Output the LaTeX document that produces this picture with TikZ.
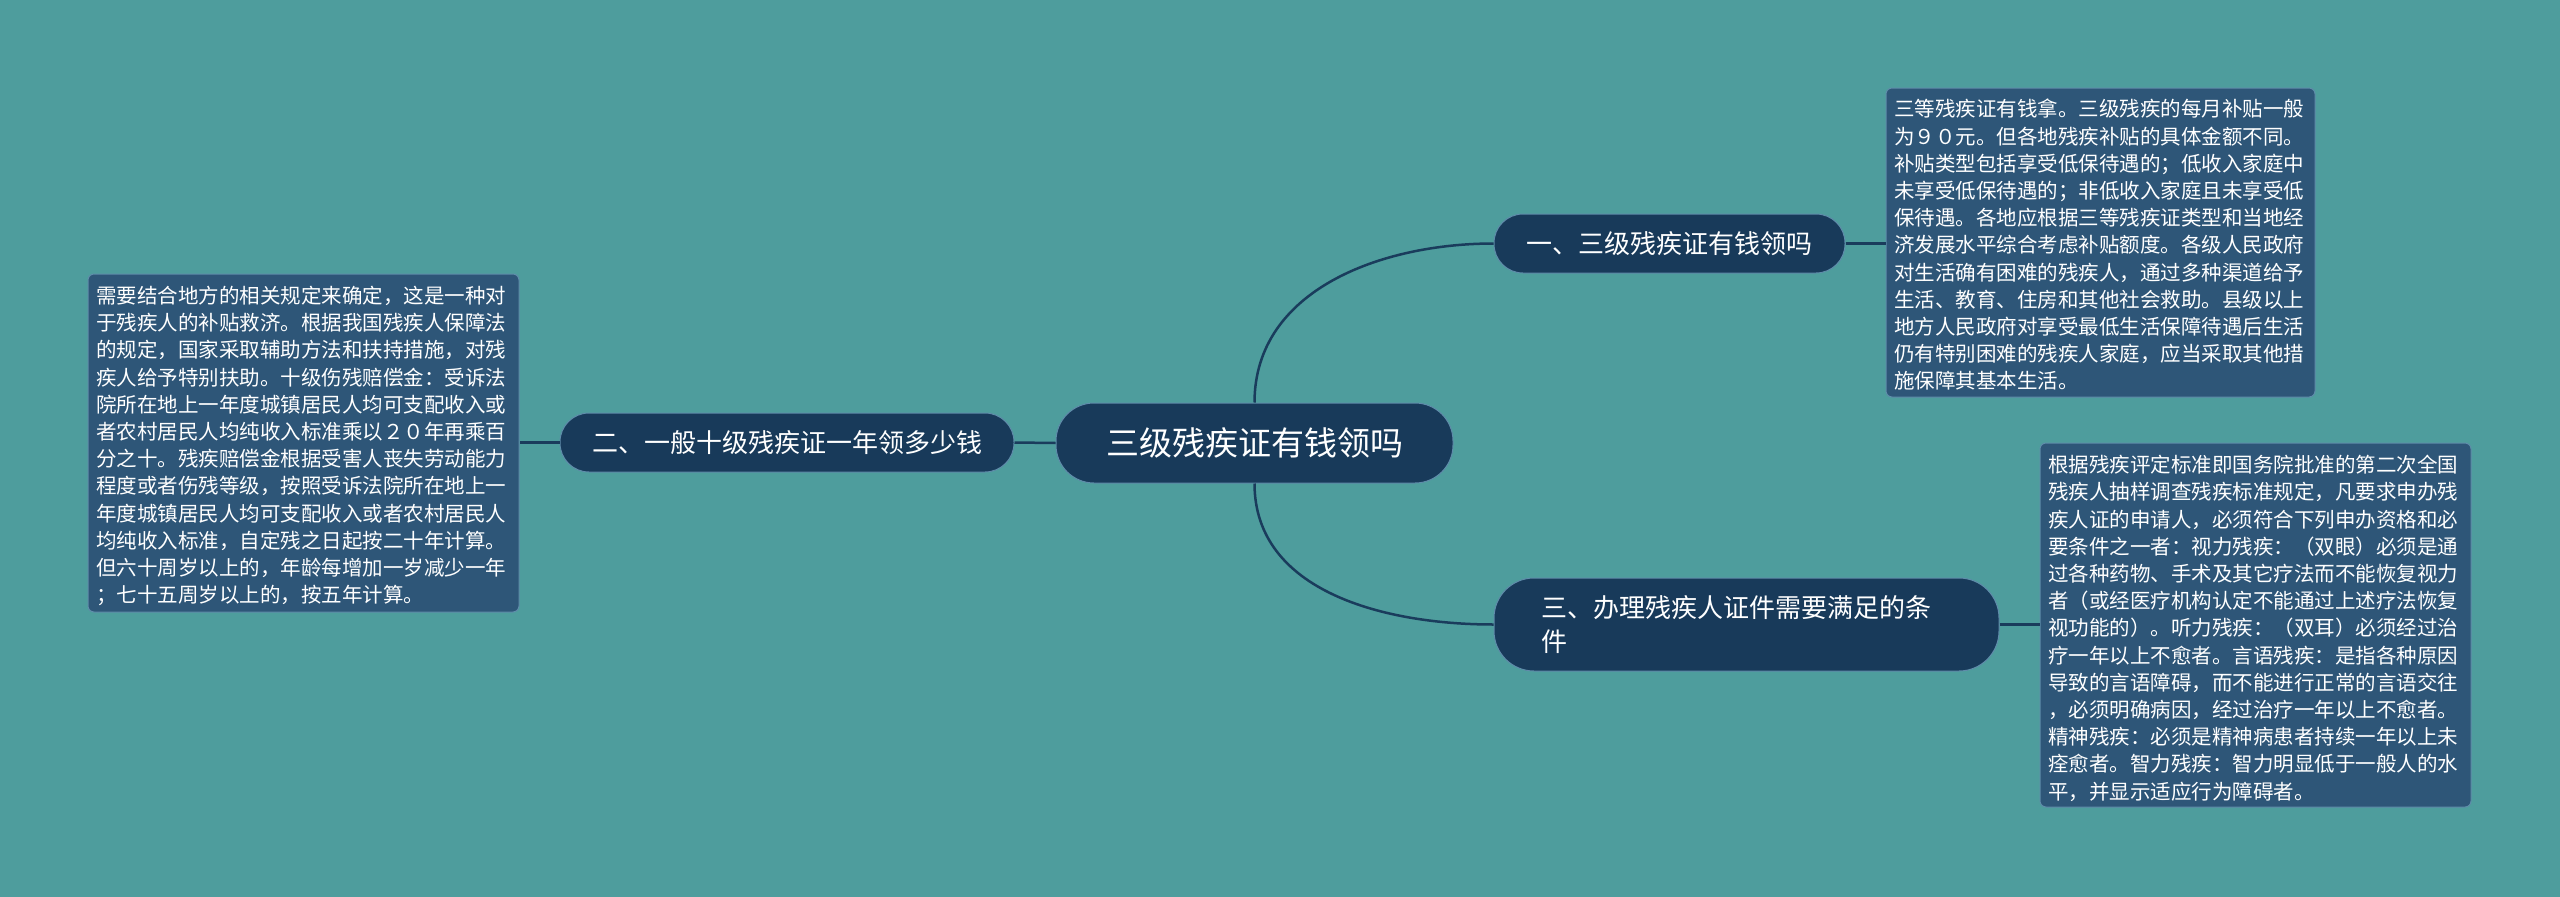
\documentclass[tikz,border=0pt]{standalone}
\usepackage{fontspec}
\setmainfont{Noto Sans CJK SC}
\definecolor{bg}{RGB}{78,157,157}
\definecolor{boxc}{RGB}{46,86,120}
\definecolor{boxb}{RGB}{95,140,170}
\definecolor{mainc}{RGB}{24,58,90}
\definecolor{linec}{RGB}{26,60,92}
\tikzset{
  branch/.style={draw=boxb,line width=1pt,fill=mainc,rounded corners=29pt,text=white,font=\fontsize{26pt}{32pt}\selectfont,inner sep=0pt},
  leafbox/.style={draw=boxb,line width=1pt,fill=boxc,rounded corners=6pt,inner sep=0pt},
  leaftext/.style={anchor=north west,text=white,align=left,font=\fontsize{20.5pt}{27.2pt}\selectfont,inner sep=0pt},
  conn/.style={draw=linec,line width=2.5pt}
}
\begin{document}
\begin{tikzpicture}[x=1pt,y=-1pt]
\fill[bg] (0,0) rectangle (2560,897);
\useasboundingbox (0,0) rectangle (2560,897);
\node[branch,minimum width=397pt,minimum height=80pt,rounded corners=38pt,font=\fontsize{33pt}{40pt}\selectfont] (c) at (1254.5,443) {三级残疾证有钱领吗};
\node[branch,minimum width=351pt,minimum height=59pt] (n1) at (1669.5,243.5) {一、三级残疾证有钱领吗};
\node[branch,minimum width=454pt,minimum height=59pt] (n2) at (787,442.5) {二、一般十级残疾证一年领多少钱};
\node[branch,minimum width=505pt,minimum height=93pt,rounded corners=40pt] (n3) at (1746.5,624.5) {};
\node[anchor=west,text=white,align=left,font=\fontsize{26pt}{34pt}\selectfont,inner sep=0pt] (n3t) at (1541,624.5) {三、办理残疾人证件需要满足的条\\件};
\node[leafbox,minimum width=429pt,minimum height=309pt] (b1) at (2100.5,242.5) {};
\node[leaftext] (b1t) at (1894,99) {三等残疾证有钱拿。三级残疾的每月补贴一般\\为９０元。但各地残疾补贴的具体金额不同。\\补贴类型包括享受低保待遇的；低收入家庭中\\未享受低保待遇的；非低收入家庭且未享受低\\保待遇。各地应根据三等残疾证类型和当地经\\济发展水平综合考虑补贴额度。各级人民政府\\对生活确有困难的残疾人，通过多种渠道给予\\生活、教育、住房和其他社会救助。县级以上\\地方人民政府对享受最低生活保障待遇后生活\\仍有特别困难的残疾人家庭，应当采取其他措\\施保障其基本生活。};
\node[leafbox,minimum width=431pt,minimum height=364pt] (b2) at (2255.5,625) {};
\node[leaftext] (b2t) at (2048,455) {根据残疾评定标准即国务院批准的第二次全国\\残疾人抽样调查残疾标准规定，凡要求申办残\\疾人证的申请人，必须符合下列申办资格和必\\要条件之一者：视力残疾：（双眼）必须是通\\过各种药物、手术及其它疗法而不能恢复视力\\者（或经医疗机构认定不能通过上述疗法恢复\\视功能的）。听力残疾：（双耳）必须经过治\\疗一年以上不愈者。言语残疾：是指各种原因\\导致的言语障碍，而不能进行正常的言语交往\\，必须明确病因，经过治疗一年以上不愈者。\\精神残疾：必须是精神病患者持续一年以上未\\痊愈者。智力残疾：智力明显低于一般人的水\\平，并显示适应行为障碍者。};
\node[leafbox,minimum width=431pt,minimum height=338pt] (b3) at (303.5,443) {};
\node[leaftext] (b3t) at (96,286) {需要结合地方的相关规定来确定，这是一种对\\于残疾人的补贴救济。根据我国残疾人保障法\\的规定，国家采取辅助方法和扶持措施，对残\\疾人给予特别扶助。十级伤残赔偿金：受诉法\\院所在地上一年度城镇居民人均可支配收入或\\者农村居民人均纯收入标准乘以２０年再乘百\\分之十。残疾赔偿金根据受害人丧失劳动能力\\程度或者伤残等级，按照受诉法院所在地上一\\年度城镇居民人均可支配收入或者农村居民人\\均纯收入标准，自定残之日起按二十年计算。\\但六十周岁以上的，年龄每增加一岁减少一年\\；七十五周岁以上的，按五年计算。};
\draw[conn] (c.north) to[out=90,in=180] (n1.west);
\draw[conn] (c.south) to[out=-90,in=180] (n3.west);
\draw[conn] (c.west) -- (n2.east);
\draw[conn] (n1.east) -- (b1.west|-n1.east);
\draw[conn] (n3.east) -- (b2.west|-n3.east);
\draw[conn] (n2.west) -- (b3.east|-n2.west);
\end{tikzpicture}
\end{document}
